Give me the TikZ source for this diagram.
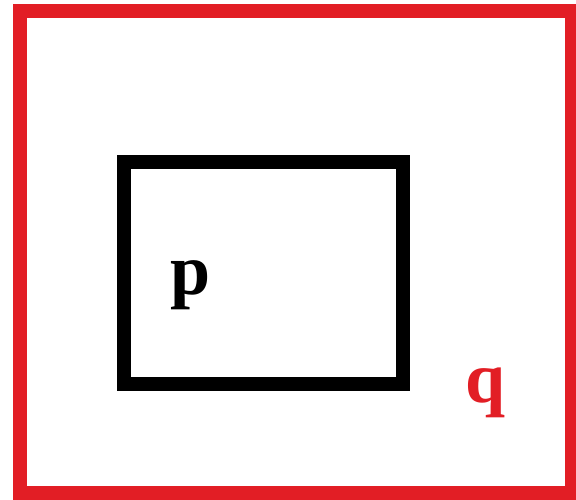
\documentclass[tikz,border=0pt]{standalone}
\usepackage{fontspec}
\setmainfont{Liberation Serif}
\usepackage{tikz}
\usetikzlibrary{positioning}

\definecolor{setred}{RGB}{226,30,37}

\begin{document}
\begin{tikzpicture}[x=1pt, y=-1pt,
    outerset/.style={line width=14pt, setred},
    innerset/.style={line width=14pt, black},
    setname/.style={font=\fontsize{72}{72}\selectfont\bfseries, inner sep=0pt}
]
\useasboundingbox (0,0) rectangle (576,499);

% Outer set q
\draw[outerset] (20,11) rectangle (572,493);
\node[setname, text=setred] (q) at (486,393) {q};

% Inner set p
\draw[innerset] (124,162) rectangle (402.5,384);
\node[setname] (p) at (191,285) {p};

\end{tikzpicture}
\end{document}
